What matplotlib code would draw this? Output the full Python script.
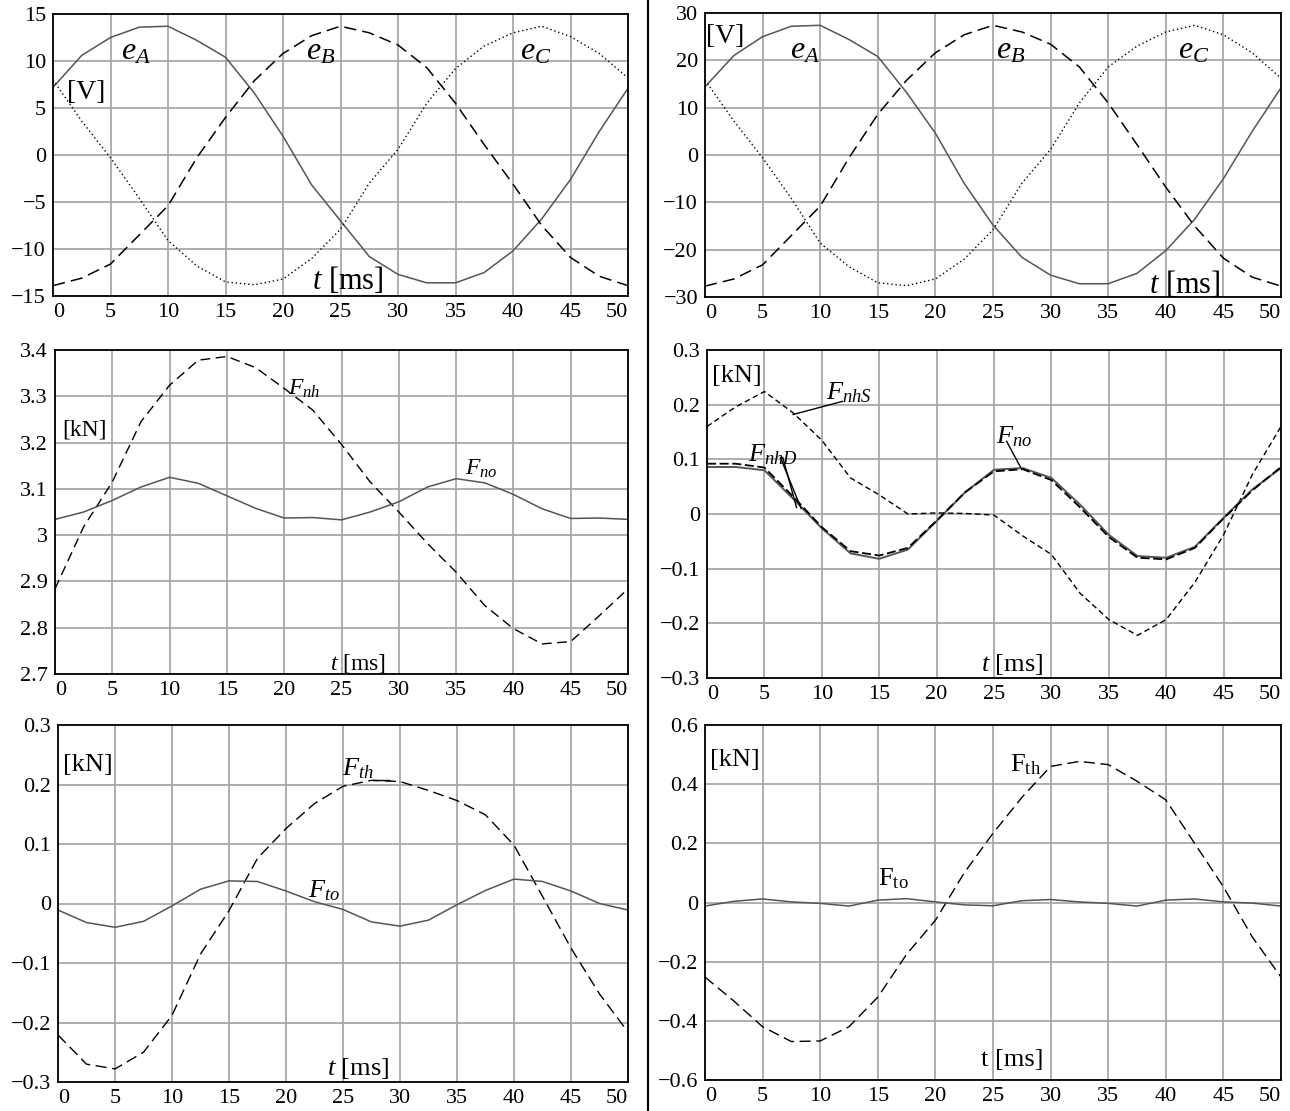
import matplotlib
matplotlib.use('Agg')
import matplotlib.pyplot as plt
from matplotlib.lines import Line2D

plt.rcParams['font.family'] = ['Liberation Serif', 'DejaVu Serif']
plt.rcParams['mathtext.fontset'] = 'custom'
plt.rcParams['mathtext.rm'] = 'Liberation Serif'
plt.rcParams['mathtext.it'] = 'Liberation Serif:italic'

# time axis [ms]
t = [0, 2.5, 5, 7.5, 10, 12.5, 15, 17.5, 20, 22.5, 25,
     27.5, 30, 32.5, 35, 37.5, 40, 42.5, 45, 47.5, 50]
xticks = [0, 5, 10, 15, 20, 25, 30, 35, 40, 45, 50]
xlabels = ['0', '5', '10', '15', '20', '25', '30', '35', '40', '45', '50']

# top left: phase voltages [V]
eA1 = [7.2, 10.6, 12.5, 13.6, 13.7, 12.2, 10.4, 6.6, 2.0, -3.2, -7.0,
       -10.8, -12.7, -13.6, -13.6, -12.5, -10.2, -6.8, -2.6, 2.5, 7.1]
eB1 = [-13.9, -13.1, -11.6, -8.5, -5.4, -0.3, 4.0, 7.9, 10.8, 12.7, 13.7,
       13.0, 11.7, 9.3, 5.5, 1.1, -3.1, -7.5, -10.9, -12.9, -13.9]
eC1 = [8.0, 3.6, -0.3, -4.6, -9.1, -11.8, -13.5, -13.8, -13.2, -11.0, -7.9,
       -3.0, 0.6, 5.5, 9.2, 11.6, 13.0, 13.7, 12.6, 10.8, 8.2]
yt1 = [-15, -10, -5, 0, 5, 10, 15]
yl1 = ['\u221215', '\u221210', '\u22125', '0', '5', '10', '15']

# top right: phase voltages [V]
eA2 = [14.4, 21.0, 25.0, 27.2, 27.4, 24.4, 20.8, 13.2, 4.6, -6.0, -14.8,
       -21.6, -25.4, -27.2, -27.2, -25.0, -20.2, -13.6, -5.0, 5.0, 14.2]
eB2 = [-27.7, -26.2, -23.2, -17.0, -10.8, -0.6, 8.6, 15.8, 21.6, 25.4, 27.4,
       26.0, 23.4, 18.6, 11.0, 2.2, -6.8, -15.0, -21.8, -25.8, -27.7]
eC2 = [15.8, 7.2, -0.6, -9.2, -18.6, -23.6, -27.0, -27.6, -26.2, -22.0, -15.8,
       -6.0, 1.2, 11.0, 18.6, 23.0, 26.0, 27.4, 25.4, 21.6, 16.2]
yt2 = [-30, -20, -10, 0, 10, 20, 30]
yl2 = ['\u221230', '\u221220', '\u221210', '0', '10', '20', '30']

# middle left: normal forces [kN]
Fnh3 = [2.884, 3.018, 3.115, 3.245, 3.324, 3.378, 3.386, 3.362, 3.317, 3.270, 3.196,
        3.115, 3.050, 2.982, 2.920, 2.848, 2.798, 2.765, 2.770, 2.826, 2.884]
Fno3 = [3.034, 3.050, 3.075, 3.104, 3.125, 3.112, 3.085, 3.058, 3.037, 3.038, 3.033,
        3.050, 3.072, 3.104, 3.122, 3.113, 3.088, 3.057, 3.036, 3.037, 3.034]
yt3 = [2.7, 2.8, 2.9, 3.0, 3.1, 3.2, 3.3, 3.4]
yl3 = ['2.7', '2.8', '2.9', '3', '3.1', '3.2', '3.3', '3.4']

# middle right: normal forces [kN]
FnhS4 = [0.160, 0.196, 0.224, 0.185, 0.135, 0.066, 0.035, 0.000, 0.002, 0.001, -0.002,
         -0.040, -0.074, -0.145, -0.193, -0.222, -0.193, -0.125, -0.038, 0.072, 0.160]
FnhD4 = [0.092, 0.092, 0.085, 0.032, -0.024, -0.068, -0.076, -0.062, -0.012, 0.040, 0.078,
         0.082, 0.062, 0.012, -0.042, -0.080, -0.083, -0.062, -0.008, 0.043, 0.086]
Fno4 = [0.086, 0.086, 0.080, 0.028, -0.026, -0.072, -0.082, -0.065, -0.013, 0.040, 0.081,
        0.084, 0.066, 0.017, -0.038, -0.077, -0.080, -0.060, -0.007, 0.045, 0.084]
yt4 = [-0.3, -0.2, -0.1, 0, 0.1, 0.2, 0.3]
yl4 = ['\u22120.3', '\u22120.2', '\u22120.1', '0', '0.1', '0.2', '0.3']

# bottom left: tangential forces [kN]
Fth5 = [-0.221, -0.270, -0.278, -0.250, -0.188, -0.085, -0.012, 0.076, 0.126, 0.168, 0.197,
        0.207, 0.205, 0.190, 0.173, 0.149, 0.098, 0.012, -0.075, -0.152, -0.216]
Fto5 = [-0.011, -0.032, -0.040, -0.030, -0.004, 0.024, 0.038, 0.037, 0.021, 0.003, -0.010,
        -0.031, -0.038, -0.028, -0.002, 0.022, 0.041, 0.037, 0.021, 0.000, -0.011]

# bottom right: tangential forces [kN]
Fth6 = [-0.252, -0.333, -0.420, -0.470, -0.468, -0.420, -0.320, -0.175, -0.060, 0.100, 0.234,
        0.355, 0.460, 0.477, 0.466, 0.410, 0.347, 0.200, 0.053, -0.116, -0.252]
Fto6 = [-0.012, 0.004, 0.012, 0.002, -0.003, -0.012, 0.008, 0.013, 0.002, -0.008, -0.011,
        0.006, 0.010, 0.002, -0.003, -0.012, 0.008, 0.012, 0.002, -0.002, -0.012]
yt6 = [-0.6, -0.4, -0.2, 0, 0.2, 0.4, 0.6]
yl6 = ['\u22120.6', '\u22120.4', '\u22120.2', '0', '0.2', '0.4', '0.6']

GRAY = '#555555'
W, H = 1290, 1111


def makeAx(fig, l, r, top, bot, ylim, yticks, ylabels):
	ax = fig.add_axes([l / W, 1 - bot / H, (r - l) / W, (bot - top) / H])
	ax.set_xlim(0, 50)
	ax.set_ylim(*ylim)
	ax.set_xticks(xticks)
	ax.set_xticklabels(xlabels, fontsize=16)
	ax.set_yticks(yticks)
	ax.set_yticklabels(ylabels, fontsize=16)
	ax.tick_params(length=0, pad=5)
	ax.grid(color='#a8a8a8', lw=1.3)
	ax.set_axisbelow(True)
	for s in ax.spines.values():
		s.set_linewidth(1.3)
	xl = ax.get_xticklabels()
	xl[0].set_ha('left')
	xl[-1].set_ha('right')
	return ax


fig = plt.figure(figsize=(W / 100, H / 100), dpi=100)

# top left
ax = makeAx(fig, 53, 628, 14, 296, (-15, 15), yt1, yl1)
ax.plot(t, eA1, color=GRAY, lw=1.1)
ax.plot(t, eB1, color='black', lw=1.1, dashes=(8, 4))
ax.plot(t, eC1, color='black', lw=1.0, dashes=(1, 2))
ax.text(1.2, 6.6, '[V]', fontsize=20, va='center')
ax.text(5.9, 11, '$e_A$', fontsize=23, va='center')
ax.text(22, 11, '$e_B$', fontsize=23, va='center')
ax.text(40.6, 11, '$e_C$', fontsize=23, va='center')
ax.text(22.5, -13.3, '$t$ [ms]', fontsize=22, va='center')

# top right
ax = makeAx(fig, 705, 1281, 13, 297, (-30, 30), yt2, yl2)
ax.plot(t, eA2, color=GRAY, lw=1.1)
ax.plot(t, eB2, color='black', lw=1.1, dashes=(8, 4))
ax.plot(t, eC2, color='black', lw=1.0, dashes=(1, 2))
ax.text(0.1, 25.1, '[V]', fontsize=20, va='center')
ax.text(7.4, 22, '$e_A$', fontsize=23, va='center')
ax.text(25.3, 22, '$e_B$', fontsize=23, va='center')
ax.text(41.1, 22, '$e_C$', fontsize=23, va='center')
ax.text(38.5, -27.3, '$t$ [ms]', fontsize=22, va='center')

# middle left
ax = makeAx(fig, 55, 628, 350, 674, (2.7, 3.4), yt3, yl3)
ax.plot(t, Fnh3, color='black', lw=1.0, dashes=(7, 4))
ax.plot(t, Fno3, color=GRAY, lw=1.1)
ax.text(0.6, 3.227, '[kN]', fontsize=17, va='center')
ax.text(20.3, 3.317, '$F_{nh}$', fontsize=17, va='center')
ax.text(35.8, 3.144, '$F_{no}$', fontsize=17, va='center')
ax.text(24, 2.722, '$t$ [ms]', fontsize=17, va='center')

# middle right
ax = makeAx(fig, 707, 1281, 350, 678, (-0.3, 0.3), yt4, yl4)
ax.plot(t, FnhS4, color='black', lw=1.0, dashes=(4, 2.5))
ax.plot(t, Fno4, color=GRAY, lw=1.4)
ax.plot(t, FnhD4, color='black', lw=1.3, dashes=(5, 2))
ax.text(0.4, 0.252, '[kN]', fontsize=19, va='center')
ax.text(10.4, 0.221, '$F_{nhS}$', fontsize=19, va='center')
ax.plot([11.8, 7.5], [0.206, 0.182], color='black', lw=1.0)
ax.text(3.6, 0.108, '$F_{nhD}$', fontsize=19, va='center')
ax.plot([6.4, 8.2], [0.103, 0.010], color='black', lw=1.0)
ax.plot([6.6, 7.8], [0.103, 0.012], color='black', lw=1.0)
ax.text(25.2, 0.142, '$F_{no}$', fontsize=19, va='center')
ax.plot([26.1, 27.3], [0.133, 0.086], color='black', lw=1.0)
ax.text(23.9, -0.276, '$t$ [ms]', fontsize=19, va='center')

# bottom left
ax = makeAx(fig, 58, 628, 725, 1082, (-0.3, 0.3), yt4, yl4)
ax.plot(t, Fth5, color='black', lw=1.0, dashes=(8, 4))
ax.plot(t, Fto5, color=GRAY, lw=1.1)
ax.text(0.4, 0.232, '[kN]', fontsize=19, va='center')
ax.text(24.9, 0.226, '$F_{th}$', fontsize=19, va='center')
ax.plot([27.6, 29.0], [0.207, 0.207], color='black', lw=1.0)
ax.text(21.9, 0.021, '$F_{to}$', fontsize=19, va='center')
ax.text(23.6, -0.277, '$t$ [ms]', fontsize=19, va='center')

# bottom right
ax = makeAx(fig, 705, 1281, 725, 1080, (-0.6, 0.6), yt6, yl6)
ax.plot(t, Fth6, color='black', lw=1.0, dashes=(8, 4))
ax.plot(t, Fto6, color=GRAY, lw=1.1)
ax.text(0.4, 0.483, '[kN]', fontsize=19, va='center')
ax.text(26.5, 0.466, r'$\mathrm{F}_\mathrm{th}$', fontsize=19, va='center')
ax.text(15, 0.081, r'$\mathrm{F}_\mathrm{to}$', fontsize=19, va='center')
ax.text(24, -0.534, 't [ms]', fontsize=19, va='center')

# separator between the two columns
fig.add_artist(Line2D([648 / W, 648 / W], [0, 1], color='black', lw=1.5,
                      transform=fig.transFigure))

fig.savefig('out.png', dpi=100)
